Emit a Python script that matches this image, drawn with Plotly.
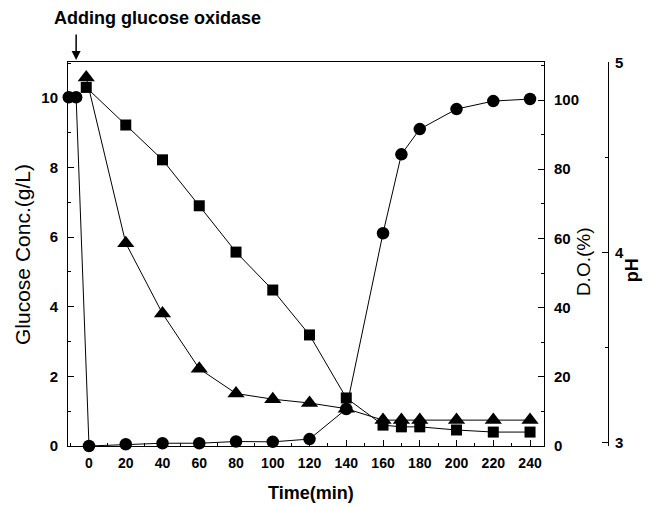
import plotly.graph_objects as go

# --- data ---
do_time = [-11, -7, 0, 20, 40, 60, 80, 100, 120, 140, 160, 170, 180, 200, 220, 240]
do_pct = [100.8, 100.8, 0, 0.5, 0.8, 0.8, 1.3, 1.2, 2.0, 10.7, 61.5, 84.3, 91.6, 97.4, 99.7, 100.3]

glc_time = [-1.5, 20, 40, 60, 80, 100, 120, 140, 160, 170, 180, 200, 220, 240]
glc_conc = [10.3, 9.22, 8.22, 6.9, 5.57, 4.48, 3.19, 1.38, 0.6, 0.55, 0.55, 0.46, 0.4, 0.4]

ph_time = [-1.5, 20, 40, 60, 80, 100, 120, 140, 160, 170, 180, 200, 220, 240]
ph_val = [4.92, 4.05, 3.68, 3.39, 3.26, 3.23, 3.21, 3.18, 3.12, 3.12, 3.12, 3.12, 3.12, 3.12]

FONT = "Arial, 'Liberation Sans', sans-serif"
BLACK = "#000000"

fig = go.Figure()
fig.add_trace(go.Scatter(x=glc_time, y=glc_conc, mode="lines+markers", yaxis="y",
                         line=dict(color=BLACK, width=1),
                         marker=dict(symbol="square", size=11, color=BLACK),
                         cliponaxis=False, showlegend=False))
fig.add_trace(go.Scatter(x=ph_time, y=ph_val, mode="lines+markers", yaxis="y3",
                         line=dict(color=BLACK, width=1),
                         marker=dict(symbol="triangle-up", size=15, color=BLACK),
                         cliponaxis=False, showlegend=False))
fig.add_trace(go.Scatter(x=do_time, y=do_pct, mode="lines+markers", yaxis="y2",
                         line=dict(color=BLACK, width=1),
                         marker=dict(symbol="circle", size=12.5, color=BLACK),
                         cliponaxis=False, showlegend=False))

tickfont_x = dict(family=FONT, size=14, color=BLACK, weight="bold")
tickfont_y = dict(family=FONT, size=15, color=BLACK, weight="bold")

fig.update_layout(
    width=654, height=509,
    margin=dict(l=68, r=20, t=62, b=63),
    paper_bgcolor="white", plot_bgcolor="white",
    font=dict(family=FONT, color=BLACK),
    xaxis=dict(domain=[0, 0.841], range=[-11.43, 247.6], showgrid=False, zeroline=False,
               showline=True, linecolor=BLACK, linewidth=1, mirror=True,
               ticks="inside", ticklen=6, tickcolor=BLACK, tick0=0, dtick=20,
               minor=dict(ticks="inside", ticklen=3, dtick=10, tickcolor=BLACK),
               tickfont=tickfont_x, ticklabelstandoff=4),
    yaxis=dict(range=[0, 11.03], showgrid=False, zeroline=False,
               showline=True, linecolor=BLACK, linewidth=1,
               ticks="inside", ticklen=6, tickcolor=BLACK, tick0=0, dtick=2,
               minor=dict(ticks="inside", ticklen=3, dtick=1, tickcolor=BLACK),
               tickfont=tickfont_y, ticklabelstandoff=6),
    yaxis2=dict(range=[0, 111], overlaying="y", side="right", anchor="x",
                showgrid=False, zeroline=False,
                showline=True, linecolor=BLACK, linewidth=1,
                ticks="inside", ticklen=6, tickcolor=BLACK, tick0=0, dtick=20,
                minor=dict(ticks="inside", ticklen=3, dtick=10, tickcolor=BLACK),
                tickfont=tickfont_y, ticklabelstandoff=6),
    yaxis3=dict(range=[2.984, 5.002], overlaying="y", side="right", anchor="free",
                position=0.954, showgrid=False, zeroline=False,
                showline=True, linecolor=BLACK, linewidth=1,
                ticks="inside", ticklen=6, tickcolor=BLACK, tick0=3, dtick=1,
                minor=dict(ticks="inside", ticklen=3, dtick=0.5, tickcolor=BLACK),
                tickfont=tickfont_y, ticklabelstandoff=3),
)

annos = [
    dict(text="Adding glucose oxidase", xref="paper", yref="paper", x=0.159, y=1.1146,
         xanchor="center", yanchor="middle", showarrow=False,
         font=dict(family=FONT, size=18, color=BLACK, weight="bold")),
    dict(text="", xref="x", yref="y domain", x=-7, y=1.005, ax=0, ay=-27,
         showarrow=True, arrowhead=2, arrowsize=1.2, arrowwidth=1.5, arrowcolor=BLACK),
    dict(text="Glucose Conc.(g/L)", xref="paper", yref="paper", x=-0.0813, y=0.5,
         xanchor="center", yanchor="middle", textangle=-90, showarrow=False,
         font=dict(family=FONT, size=21, color=BLACK)),
    dict(text="D.O.(%)", xref="paper", yref="paper", x=0.91, y=0.479,
         xanchor="center", yanchor="middle", textangle=-90, showarrow=False,
         font=dict(family=FONT, size=19, color=BLACK)),
    dict(text="pH", xref="paper", yref="paper", x=0.9965, y=0.458,
         xanchor="center", yanchor="middle", textangle=-90, showarrow=False,
         font=dict(family=FONT, size=18, color=BLACK, weight="bold")),
    dict(text="Time(min)", xref="paper", yref="paper", x=0.4293, y=-0.1224,
         xanchor="center", yanchor="middle", showarrow=False,
         font=dict(family=FONT, size=18, color=BLACK, weight="bold")),
]
fig.update_layout(annotations=annos)

fig.write_html("out.html")
